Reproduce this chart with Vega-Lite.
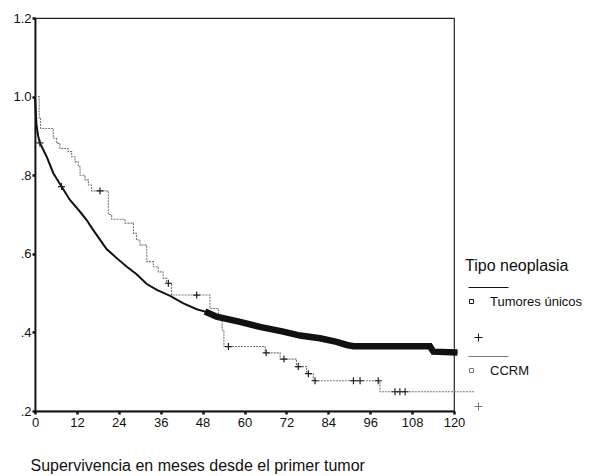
{
  "$schema": "https://vega.github.io/schema/vega-lite/v6.json",
  "width": 419,
  "height": 393,
  "autosize": {"type": "none"},
  "padding": {"left": 35, "top": 18, "right": 135, "bottom": 65},
  "background": "white",
  "config": {
    "view": {"stroke": "#222", "strokeWidth": 1.2},
    "font": "Liberation Sans",
    "axis": {"grid": false, "domainColor": "#111", "domainWidth": 1.8, "tickColor": "#111", "tickSize": 3, "tickWidth": 2.5, "labelColor": "#111", "labelFont": "Liberation Sans", "labelFontSize": 13, "titleFont": "Liberation Sans", "titleFontWeight": "normal", "titleColor": "#111"}
  },
  "data": {"values": [
    {"grupo": "Tumores únicos", "tipo": "curva", "mes": 0, "superv": 1.0},
    {"grupo": "Tumores únicos", "tipo": "curva", "mes": 0.4, "superv": 0.93},
    {"grupo": "Tumores únicos", "tipo": "curva", "mes": 0.9, "superv": 0.9},
    {"grupo": "Tumores únicos", "tipo": "curva", "mes": 1.4, "superv": 0.882},
    {"grupo": "Tumores únicos", "tipo": "curva", "mes": 3.35, "superv": 0.847},
    {"grupo": "Tumores únicos", "tipo": "curva", "mes": 5.25, "superv": 0.805},
    {"grupo": "Tumores únicos", "tipo": "curva", "mes": 7.6, "superv": 0.771},
    {"grupo": "Tumores únicos", "tipo": "curva", "mes": 10.0, "superv": 0.737},
    {"grupo": "Tumores únicos", "tipo": "curva", "mes": 12.9, "superv": 0.707},
    {"grupo": "Tumores únicos", "tipo": "curva", "mes": 14.8, "superv": 0.686},
    {"grupo": "Tumores únicos", "tipo": "curva", "mes": 16.4, "superv": 0.664},
    {"grupo": "Tumores únicos", "tipo": "curva", "mes": 18.6, "superv": 0.636},
    {"grupo": "Tumores únicos", "tipo": "curva", "mes": 20.5, "superv": 0.612},
    {"grupo": "Tumores únicos", "tipo": "curva", "mes": 23.4, "superv": 0.589},
    {"grupo": "Tumores únicos", "tipo": "curva", "mes": 26.3, "superv": 0.567},
    {"grupo": "Tumores únicos", "tipo": "curva", "mes": 29.1, "superv": 0.548},
    {"grupo": "Tumores únicos", "tipo": "curva", "mes": 32.0, "superv": 0.523},
    {"grupo": "Tumores únicos", "tipo": "curva", "mes": 34.9, "superv": 0.508},
    {"grupo": "Tumores únicos", "tipo": "curva", "mes": 38.7, "superv": 0.493},
    {"grupo": "Tumores únicos", "tipo": "curva", "mes": 42.5, "superv": 0.474},
    {"grupo": "Tumores únicos", "tipo": "curva", "mes": 46.3, "superv": 0.459},
    {"grupo": "Tumores únicos", "tipo": "curva", "mes": 48.7, "superv": 0.453},
    {"grupo": "Tumores únicos", "tipo": "curva", "mes": 52.0, "superv": 0.44},
    {"grupo": "Tumores únicos", "tipo": "curva", "mes": 58.7, "superv": 0.427},
    {"grupo": "Tumores únicos", "tipo": "curva", "mes": 64.4, "superv": 0.414},
    {"grupo": "Tumores únicos", "tipo": "curva", "mes": 71.1, "superv": 0.402},
    {"grupo": "Tumores únicos", "tipo": "curva", "mes": 75.9, "superv": 0.392},
    {"grupo": "Tumores únicos", "tipo": "curva", "mes": 81.6, "superv": 0.385},
    {"grupo": "Tumores únicos", "tipo": "curva", "mes": 86.4, "superv": 0.376},
    {"grupo": "Tumores únicos", "tipo": "curva", "mes": 89.3, "superv": 0.368},
    {"grupo": "Tumores únicos", "tipo": "curva", "mes": 91.2, "superv": 0.365},
    {"grupo": "Tumores únicos", "tipo": "curva", "mes": 113.1, "superv": 0.365},
    {"grupo": "Tumores únicos", "tipo": "curva", "mes": 114.1, "superv": 0.351},
    {"grupo": "Tumores únicos", "tipo": "curva", "mes": 121.0, "superv": 0.349},
    {"grupo": "CCRM", "tipo": "curva", "mes": 0, "superv": 1.0},
    {"grupo": "CCRM", "tipo": "curva", "mes": 1.2, "superv": 0.945},
    {"grupo": "CCRM", "tipo": "curva", "mes": 1.6, "superv": 0.919},
    {"grupo": "CCRM", "tipo": "curva", "mes": 5.25, "superv": 0.894},
    {"grupo": "CCRM", "tipo": "curva", "mes": 6.2, "superv": 0.881},
    {"grupo": "CCRM", "tipo": "curva", "mes": 7.16, "superv": 0.868},
    {"grupo": "CCRM", "tipo": "curva", "mes": 9.5, "superv": 0.86},
    {"grupo": "CCRM", "tipo": "curva", "mes": 10.5, "superv": 0.847},
    {"grupo": "CCRM", "tipo": "curva", "mes": 11.46, "superv": 0.834},
    {"grupo": "CCRM", "tipo": "curva", "mes": 12.4, "superv": 0.822},
    {"grupo": "CCRM", "tipo": "curva", "mes": 12.9, "superv": 0.8},
    {"grupo": "CCRM", "tipo": "curva", "mes": 14.3, "superv": 0.788},
    {"grupo": "CCRM", "tipo": "curva", "mes": 15.3, "superv": 0.775},
    {"grupo": "CCRM", "tipo": "curva", "mes": 16.2, "superv": 0.76},
    {"grupo": "CCRM", "tipo": "curva", "mes": 21.0, "superv": 0.7},
    {"grupo": "CCRM", "tipo": "curva", "mes": 21.96, "superv": 0.688},
    {"grupo": "CCRM", "tipo": "curva", "mes": 25.8, "superv": 0.678},
    {"grupo": "CCRM", "tipo": "curva", "mes": 28.2, "superv": 0.652},
    {"grupo": "CCRM", "tipo": "curva", "mes": 29.1, "superv": 0.635},
    {"grupo": "CCRM", "tipo": "curva", "mes": 30.1, "superv": 0.622},
    {"grupo": "CCRM", "tipo": "curva", "mes": 32.0, "superv": 0.58},
    {"grupo": "CCRM", "tipo": "curva", "mes": 33.9, "superv": 0.567},
    {"grupo": "CCRM", "tipo": "curva", "mes": 35.3, "superv": 0.554},
    {"grupo": "CCRM", "tipo": "curva", "mes": 36.7, "superv": 0.538},
    {"grupo": "CCRM", "tipo": "curva", "mes": 37.7, "superv": 0.525},
    {"grupo": "CCRM", "tipo": "curva", "mes": 39.1, "superv": 0.495},
    {"grupo": "CCRM", "tipo": "curva", "mes": 50.1, "superv": 0.461},
    {"grupo": "CCRM", "tipo": "curva", "mes": 52.5, "superv": 0.432},
    {"grupo": "CCRM", "tipo": "curva", "mes": 53.6, "superv": 0.406},
    {"grupo": "CCRM", "tipo": "curva", "mes": 54.1, "superv": 0.364},
    {"grupo": "CCRM", "tipo": "curva", "mes": 65.9, "superv": 0.348},
    {"grupo": "CCRM", "tipo": "curva", "mes": 70.2, "superv": 0.332},
    {"grupo": "CCRM", "tipo": "curva", "mes": 74.9, "superv": 0.313},
    {"grupo": "CCRM", "tipo": "curva", "mes": 77.8, "superv": 0.295},
    {"grupo": "CCRM", "tipo": "curva", "mes": 79.7, "superv": 0.277},
    {"grupo": "CCRM", "tipo": "curva", "mes": 98.8, "superv": 0.249},
    {"grupo": "CCRM", "tipo": "curva", "mes": 126.0, "superv": 0.249},
    {"grupo": "Tumores únicos", "tipo": "censura", "mes": 1.4, "superv": 0.882},
    {"grupo": "Tumores únicos", "tipo": "censura", "mes": 7.6, "superv": 0.771},
    {"grupo": "CCRM", "tipo": "censura", "mes": 18.6, "superv": 0.76},
    {"grupo": "CCRM", "tipo": "censura", "mes": 38.2, "superv": 0.525},
    {"grupo": "CCRM", "tipo": "censura", "mes": 46.3, "superv": 0.495},
    {"grupo": "CCRM", "tipo": "censura", "mes": 55.4, "superv": 0.364},
    {"grupo": "CCRM", "tipo": "censura", "mes": 66.2, "superv": 0.348},
    {"grupo": "CCRM", "tipo": "censura", "mes": 71.3, "superv": 0.332},
    {"grupo": "CCRM", "tipo": "censura", "mes": 75.4, "superv": 0.313},
    {"grupo": "CCRM", "tipo": "censura", "mes": 78.3, "superv": 0.295},
    {"grupo": "CCRM", "tipo": "censura", "mes": 80.2, "superv": 0.277},
    {"grupo": "CCRM", "tipo": "censura", "mes": 91.2, "superv": 0.277},
    {"grupo": "CCRM", "tipo": "censura", "mes": 93.1, "superv": 0.277},
    {"grupo": "CCRM", "tipo": "censura", "mes": 98.3, "superv": 0.277},
    {"grupo": "CCRM", "tipo": "censura", "mes": 103.1, "superv": 0.249},
    {"grupo": "CCRM", "tipo": "censura", "mes": 104.5, "superv": 0.249},
    {"grupo": "CCRM", "tipo": "censura", "mes": 106.0, "superv": 0.249}
  ]},
  "encoding": {
    "x": {"field": "mes", "type": "quantitative",
      "scale": {"domain": [0, 120], "nice": false, "zero": false},
      "axis": {"values": [0, 12, 24, 36, 48, 60, 72, 84, 96, 108, 120], "labelPadding": 2, "labelFlush": false,
        "title": "Supervivencia en meses desde el primer tumor", "titleFontSize": 16, "titleAnchor": "start", "titleAlign": "left", "titleX": -5, "titleY": 59, "titleBaseline": "alphabetic"}},
    "y": {"field": "superv", "type": "quantitative",
      "scale": {"domain": [0.2, 1.2], "nice": false, "zero": false},
      "axis": {"values": [0.2, 0.4, 0.6, 0.8, 1.0, 1.2], "labelPadding": 1, "labelFlush": false, "title": null,
        "labelExpr": "datum.value >= 1 ? format(datum.value, '.1f') : replace(format(datum.value, '.1f'), '0.', '.')"}}
  },
  "layer": [
    {
      "transform": [{"filter": "datum.tipo == 'curva' && datum.grupo == 'CCRM'"}],
      "mark": {"type": "line", "interpolate": "step-after", "clip": false, "strokeWidth": 1.1, "strokeDash": [2, 1]},
      "encoding": {
        "color": {"field": "grupo", "type": "nominal",
          "scale": {"domain": ["Tumores únicos", "CCRM"], "range": ["#111111", "#777777"]},
          "legend": {"title": "Tipo neoplasia", "orient": "none", "legendX": 430, "legendY": 240,
            "titleFontSize": 16, "titleFontWeight": "normal", "titleColor": "#111", "titlePadding": 21,
            "labelFontSize": 13, "labelColor": "#111", "labelOffset": 12,
            "symbolType": "M-3,-14H37M-2,-2H2V2H-2ZM3,36H11M7,32V40",
            "symbolSize": 4, "symbolStrokeWidth": 1, "symbolFillColor": "transparent",
            "rowPadding": 10, "padding": 0}}
      }
    },
    {
      "transform": [{"filter": "datum.tipo == 'curva' && datum.grupo == 'Tumores únicos'"}],
      "mark": {"type": "line", "clip": false, "strokeWidth": 2},
      "encoding": {"color": {"field": "grupo", "type": "nominal"}}
    },
    {
      "transform": [{"filter": "datum.tipo == 'curva' && datum.grupo == 'Tumores únicos' && datum.mes >= 48.7"}],
      "mark": {"type": "line", "clip": false, "strokeWidth": 6.5, "color": "#111"},
      "encoding": {}
    },
    {
      "transform": [{"filter": "datum.tipo == 'censura'"}],
      "mark": {"type": "point", "shape": "M-1,0H1M0,-1V1", "size": 49, "filled": false, "strokeWidth": 1.2, "color": "#222", "opacity": 1},
      "encoding": {}
    }
  ]
}
